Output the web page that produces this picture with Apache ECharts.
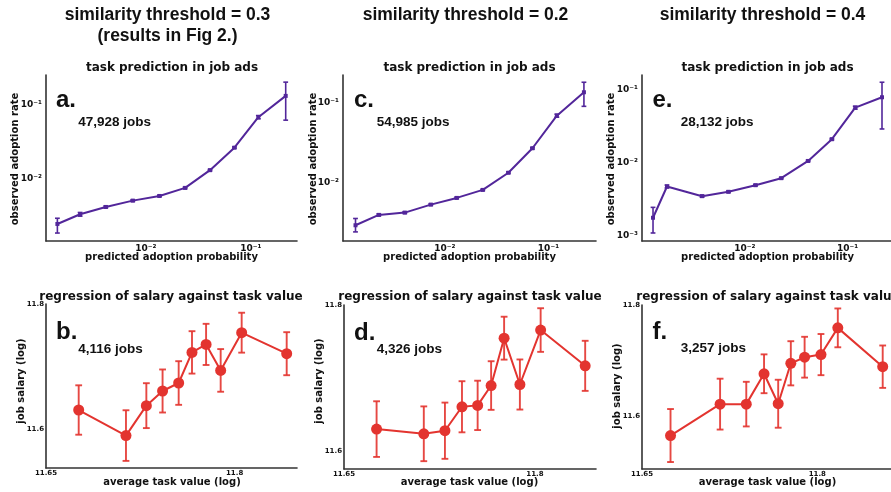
<!DOCTYPE html>
<html><head><meta charset="utf-8">
<script src="https://cdn.jsdelivr.net/npm/echarts@6/dist/echarts.min.js"></script>
<style>html,body{margin:0;padding:0;background:#fff}#c{width:891px;height:492px}</style>
</head><body><div id="c"></div>
<script>
// ---------- data ----------
const colTitles = ['similarity threshold = 0.3', 'similarity threshold = 0.2', 'similarity threshold = 0.4'];
const colSubtitle = '(results in Fig 2.)';
const topTitle = 'task prediction in job ads';
const botTitle = 'regression of salary against task value';
const letters = ['a.', 'b.', 'c.', 'd.', 'e.', 'f.'];
const jobCounts = ['47,928 jobs', '4,116 jobs', '54,985 jobs', '4,326 jobs', '28,132 jobs', '3,257 jobs'];

// panel a
const aX  = [0.00144, 0.00237, 0.00416, 0.00752, 0.0135, 0.0237, 0.0409, 0.0698, 0.118, 0.215];
const aY  = [0.00250, 0.00337, 0.00422, 0.00513, 0.00592, 0.00759, 0.0131, 0.0262, 0.0670, 0.129];
const aLo = [0.00189, 0.00318, 0.00410, 0.00500, 0.00578, 0.00740, 0.0128, 0.0256, 0.0637, 0.0611];
const aHi = [0.00298, 0.00356, 0.00434, 0.00526, 0.00606, 0.00778, 0.0134, 0.0268, 0.0704, 0.197];
// panel c
const cX  = [0.00137, 0.00230, 0.00410, 0.00731, 0.0130, 0.0232, 0.0410, 0.0700, 0.1205, 0.220];
const cY  = [0.00293, 0.00395, 0.00422, 0.00531, 0.00644, 0.00811, 0.0133, 0.0269, 0.0688, 0.135];
const cLo = [0.00242, 0.00383, 0.00412, 0.00519, 0.00630, 0.00795, 0.0130, 0.0263, 0.0658, 0.0900];
const cHi = [0.00356, 0.00406, 0.00432, 0.00543, 0.00658, 0.00827, 0.0136, 0.0275, 0.0718, 0.180];
// panel e
const eX  = [0.00128, 0.00175, 0.00384, 0.00693, 0.0127, 0.0226, 0.0413, 0.0703, 0.1186, 0.216];
const eY  = [0.00176, 0.00470, 0.00347, 0.00398, 0.00490, 0.00611, 0.0105, 0.0208, 0.0561, 0.0778];
const eLo = [0.00109, 0.00449, 0.00336, 0.00388, 0.00478, 0.00598, 0.0103, 0.0203, 0.0536, 0.0287];
const eHi = [0.00244, 0.00492, 0.00358, 0.00408, 0.00502, 0.00624, 0.0108, 0.0213, 0.0587, 0.1248];
// panel b
const bX   = [11.676, 11.7136, 11.7298, 11.7427, 11.7555, 11.7661, 11.7773, 11.7889, 11.8056, 11.8414];
const bY   = [11.630, 11.589, 11.637, 11.6605, 11.6733, 11.7224, 11.7352, 11.6935, 11.754, 11.7203];
const bErr = [0.0396, 0.0406, 0.036, 0.0345, 0.035, 0.034, 0.033, 0.0342, 0.032, 0.0345];
// panel d
const dX   = [11.6756, 11.7127, 11.7293, 11.7427, 11.755, 11.7656, 11.7758, 11.7882, 11.8045, 11.8395];
const dY   = [11.6305, 11.6241, 11.6283, 11.661, 11.6629, 11.69, 11.7547, 11.6914, 11.7658, 11.7169];
const dErr = [0.038, 0.0374, 0.0384, 0.0349, 0.0337, 0.0332, 0.0293, 0.0342, 0.0298, 0.0342];
// panel f
const fX   = [11.6744, 11.7168, 11.7392, 11.7544, 11.7665, 11.7773, 11.7891, 11.8031, 11.8175, 11.8559];
const fY   = [11.566, 11.6223, 11.6223, 11.6767, 11.623, 11.6955, 11.7064, 11.7111, 11.759, 11.6894];
const fErr = [0.0475, 0.0456, 0.04, 0.0348, 0.043, 0.0396, 0.0366, 0.0369, 0.0348, 0.038];

const logTicksX = [0.01, 0.1];
const logTicksYa = [0.01, 0.1];
const logTicksYe = [0.001, 0.01, 0.1];
const linTicksX = [11.65, 11.8];
const linTicksY = [11.6, 11.8];

// ---------- styling / layout ----------
const PURPLE = '#52269a';
const RED = '#e3342f';
const AXC = '#333333';
const MPL = 'DejaVu Sans';
const ARIAL = 'Liberation Sans';

const SUP = {'-':'\u207B','0':'\u2070','1':'\u00B9','2':'\u00B2','3':'\u00B3','4':'\u2074','5':'\u2075','6':'\u2076','7':'\u2077','8':'\u2078','9':'\u2079'};
function logFmt(v){ const e = Math.round(Math.log10(v)); return '10' + String(e).split('').map(c=>SUP[c]).join(''); }
function linFmt(v){ return String(+(+v).toFixed(2)); }

const panels = [
  {grid:{left:46, top:75, width:251, height:166}, type:'log', X:aX, Y:aY, Lo:aLo, Hi:aHi,
   xr:[Math.pow(10,-2.95), Math.pow(10,-0.56)], yr:[Math.pow(10,-2.83), Math.pow(10,-0.61)], yt:logTicksYa},
  {grid:{left:343, top:75, width:253, height:166}, type:'log', X:cX, Y:cY, Lo:cLo, Hi:cHi,
   xr:[Math.pow(10,-2.984), Math.pow(10,-0.541)], yr:[Math.pow(10,-2.73), Math.pow(10,-0.654)], yt:logTicksYa},
  {grid:{left:642, top:75, width:249, height:166}, type:'log', X:eX, Y:eY, Lo:eLo, Hi:eHi,
   xr:[Math.pow(10,-3.0), Math.pow(10,-0.578)], yr:[Math.pow(10,-3.072), Math.pow(10,-0.805)], yt:logTicksYe},
  {grid:{left:46, top:304, width:251, height:164}, type:'value', X:bX, Y:bY, Err:bErr,
   xr:[11.65, 11.8496], yr:[11.537, 11.8]},
  {grid:{left:344, top:305, width:252, height:164}, type:'value', X:dX, Y:dY, Err:dErr,
   xr:[11.65, 11.848], yr:[11.576, 11.8]},
  {grid:{left:642, top:305, width:249, height:164}, type:'value', X:fX, Y:fY, Err:fErr,
   xr:[11.65, 11.863], yr:[11.506, 11.8]},
];

function errRender(capW, color, lw, opacity){
  return function(params, api){
    const x = api.value(0), lo = api.value(1), hi = api.value(2);
    const p1 = api.coord([x, lo]), p2 = api.coord([x, hi]);
    const style = {stroke: color, lineWidth: lw, opacity: opacity};
    return {type:'group', children:[
      {type:'line', shape:{x1:p1[0], y1:p1[1], x2:p2[0], y2:p2[1]}, style:style},
      {type:'line', shape:{x1:p1[0]-capW, y1:p1[1], x2:p1[0]+capW, y2:p1[1]}, style:style},
      {type:'line', shape:{x1:p2[0]-capW, y1:p2[1], x2:p2[0]+capW, y2:p2[1]}, style:style}
    ]};
  };
}

const grid = [], xAxis = [], yAxis = [], series = [];
panels.forEach((p, i) => {
  grid.push(Object.assign({containLabel:false}, p.grid));
  const isLog = p.type === 'log';
  const axLine = {show:true, lineStyle:{color:AXC, width:1.6}};
  xAxis.push({
    type:p.type, gridIndex:i, min:p.xr[0], max:p.xr[1], logBase:10,
    axisLine:axLine, axisTick:{show:false}, splitLine:{show:false}, minorTick:{show:false},
    axisLabel:{customValues: isLog ? logTicksX : linTicksX, formatter: isLog ? logFmt : linFmt,
      color:'#111', fontFamily:MPL, fontWeight:'bold', fontSize: isLog ? 9 : 7, margin: isLog ? 3 : 2}
  });
  yAxis.push({
    type:p.type, gridIndex:i, min:p.yr[0], max:p.yr[1], logBase:10,
    axisLine:axLine, axisTick:{show:false}, splitLine:{show:false}, minorTick:{show:false},
    axisLabel:{customValues: isLog ? p.yt : linTicksY, formatter: isLog ? logFmt : linFmt,
      color:'#111', fontFamily:MPL, fontWeight:'bold', fontSize: isLog ? 9 : 7, margin: isLog ? 4 : 2}
  });
  const pts = p.X.map((x, k) => [x, p.Y[k]]);
  const errs = isLog ? p.X.map((x, k) => [x, p.Lo[k], p.Hi[k]])
                     : p.X.map((x, k) => [x, p.Y[k] - p.Err[k], p.Y[k] + p.Err[k]]);
  const col = isLog ? PURPLE : RED;
  series.push({
    type:'custom', xAxisIndex:i, yAxisIndex:i, data:errs, z:2,
    encode:{x:0, y:[1,2]},
    renderItem: errRender(isLog ? 2.4 : 3.4, col, isLog ? 1.6 : 1.9, isLog ? 1 : 0.9),
    silent:true
  });
  series.push({
    type:'line', xAxisIndex:i, yAxisIndex:i, data:pts, z:3,
    symbol: isLog ? 'rect' : 'circle', symbolSize: isLog ? 4 : 11,
    showSymbol:true, showAllSymbol:true,
    itemStyle:{color:col}, lineStyle:{color:col, width: isLog ? 2 : 2},
    silent:true
  });
});

function txt(x, y, text, font, align, opts){
  return Object.assign({type:'text', x:x, y:y, silent:true,
    style:{text:text, font:font, fill:'#111', textAlign:align || 'center', textVerticalAlign:'middle'}}, opts || {});
}
const HFONT = 'bold 17.5px "' + ARIAL + '"';
const TFONT = 'bold 12px "' + MPL + '"';
const LFONT = 'bold 10px "' + MPL + '"';
const BIG = 'bold 24px "' + ARIAL + '"';
const CNT = 'bold 13.5px "' + ARIAL + '"';

const graphics = [
  txt(167.5, 15.5, colTitles[0], HFONT),
  txt(167.5, 36, colSubtitle, HFONT),
  txt(465.5, 15.5, colTitles[1], HFONT),
  txt(762.5, 15.5, colTitles[2], HFONT),
  // subplot titles
  txt(172, 67.5, topTitle, TFONT), txt(469.5, 67.5, topTitle, TFONT), txt(767.5, 67.5, topTitle, TFONT),
  txt(171, 296.5, botTitle, TFONT), txt(470, 296.5, botTitle, TFONT), txt(768, 296.5, botTitle, TFONT),
  // axis names top
  txt(171.5, 257.5, 'predicted adoption probability', LFONT),
  txt(469.5, 257.5, 'predicted adoption probability', LFONT),
  txt(767.5, 257.5, 'predicted adoption probability', LFONT),
  txt(15, 159, 'observed adoption rate', LFONT, 'center', {rotation:Math.PI/2}),
  txt(313.5, 159, 'observed adoption rate', LFONT, 'center', {rotation:Math.PI/2}),
  txt(611, 159, 'observed adoption rate', LFONT, 'center', {rotation:Math.PI/2}),
  // axis names bottom
  txt(172, 482, 'average task value (log)', LFONT),
  txt(469.5, 482, 'average task value (log)', LFONT),
  txt(767.5, 482.5, 'average task value (log)', LFONT),
  txt(21.5, 381, 'job salary (log)', LFONT, 'center', {rotation:Math.PI/2}),
  txt(319.5, 381, 'job salary (log)', LFONT, 'center', {rotation:Math.PI/2}),
  txt(617.5, 386, 'job salary (log)', LFONT, 'center', {rotation:Math.PI/2}),
  // panel letters and counts
  txt(56, 100, letters[0], BIG, 'left'), txt(78.3, 122.7, jobCounts[0], CNT, 'left'),
  txt(56, 332.5, letters[1], BIG, 'left'), txt(78.3, 349, jobCounts[1], CNT, 'left'),
  txt(354, 100, letters[2], BIG, 'left'), txt(376.7, 122.7, jobCounts[2], CNT, 'left'),
  txt(354, 333, letters[3], BIG, 'left'), txt(376.7, 349, jobCounts[3], CNT, 'left'),
  txt(652.5, 100, letters[4], BIG, 'left'), txt(680.7, 122.7, jobCounts[4], CNT, 'left'),
  txt(652.5, 332.5, letters[5], BIG, 'left'), txt(680.7, 348.5, jobCounts[5], CNT, 'left')
];

const chart = echarts.init(document.getElementById('c'), null, {renderer:'canvas'});
chart.setOption({
  animation:false,
  backgroundColor:'#ffffff',
  grid:grid, xAxis:xAxis, yAxis:yAxis, series:series,
  graphic:{elements:graphics}
});
</script>
</body></html>
